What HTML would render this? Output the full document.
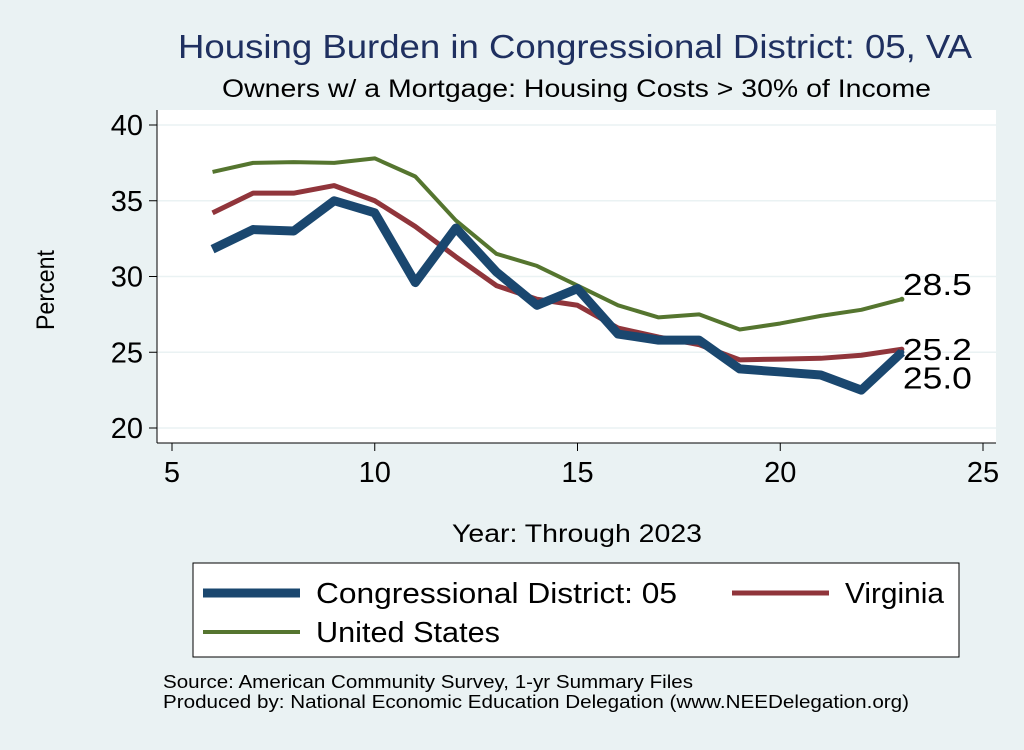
<!DOCTYPE html>
<html><head><meta charset="utf-8"><style>
body{margin:0;background:#eaf2f3;font-family:"Liberation Sans",sans-serif;}
</style></head><body>
<svg width="1024" height="745" xmlns="http://www.w3.org/2000/svg" font-family="Liberation Sans, sans-serif">
<rect x="0" y="0" width="1024" height="745" fill="#eaf2f3"/>
<text x="178" y="58" font-size="33" fill="#1f3060" textLength="794" lengthAdjust="spacingAndGlyphs">Housing Burden in Congressional District:  05, VA</text>
<text x="222" y="97" font-size="25" fill="#000" textLength="709" lengthAdjust="spacingAndGlyphs">Owners w/ a Mortgage: Housing Costs &gt; 30% of Income</text>
<rect x="157" y="110" width="839" height="333" fill="#fff"/>
<g id="grid"></g>
<line x1="157" y1="110" x2="157" y2="443" stroke="#000" stroke-width="1"/>
<line x1="157" y1="443" x2="996" y2="443" stroke="#000" stroke-width="1"/>
<g id="ticks"></g>
<g id="series"></g>
<text x="54" y="290" font-size="25" textLength="80" lengthAdjust="spacingAndGlyphs" transform="rotate(-90 54 290)" text-anchor="start" dx="-40">Percent</text>
<text x="452" y="542" font-size="25" textLength="250" lengthAdjust="spacingAndGlyphs">Year: Through 2023</text>
<rect x="193" y="563" width="766" height="94" fill="#fff" stroke="#000" stroke-width="1"/>
<g><line x1="203" y1="593" x2="300" y2="593" stroke="#1a476f" stroke-width="9"/><text x="316" y="603" font-size="29" textLength="361" lengthAdjust="spacingAndGlyphs">Congressional District:  05</text></g>
<g><line x1="732" y1="593" x2="829" y2="593" stroke="#90353b" stroke-width="5"/><text x="845" y="603" font-size="29" textLength="99" lengthAdjust="spacingAndGlyphs">Virginia</text></g>
<g><line x1="203" y1="632" x2="300" y2="632" stroke="#55752f" stroke-width="4"/><text x="316" y="642" font-size="29" textLength="184" lengthAdjust="spacingAndGlyphs">United States</text></g>
<text x="163" y="688" font-size="18" textLength="530" lengthAdjust="spacingAndGlyphs">Source: American Community Survey, 1-yr Summary Files</text>
<text x="163" y="708" font-size="18" textLength="746" lengthAdjust="spacingAndGlyphs">Produced by: National Economic Education Delegation (www.NEEDelegation.org)</text>
</svg>
<script>
const years=[6,7,8,9,10,11,12,13,14,15,16,17,18,19,20,21,22,23];
const cd05=[31.8,33.1,33.0,35.0,34.2,29.6,33.2,30.3,28.1,29.2,26.2,25.8,25.8,23.9,23.7,23.5,22.5,25.0];
const virginia=[34.2,35.5,35.5,36.0,35.0,33.3,31.3,29.4,28.5,28.1,26.6,26.0,25.5,24.5,24.55,24.6,24.8,25.2];
const us=[36.9,37.5,37.55,37.5,37.8,36.6,33.7,31.5,30.7,29.4,28.1,27.3,27.5,26.5,26.9,27.4,27.8,28.5];
const xTicks=[5,10,15,20,25];
const yTicks=[20,25,30,35,40];
const NS="http://www.w3.org/2000/svg";
function X(v){return 172+(v-5)*(983-172)/20;}
function Y(v){return 428-(v-20)*(428-125)/20;}
const grid=document.getElementById('grid'),ticks=document.getElementById('ticks'),ser=document.getElementById('series');
function mk(tag,attrs,parent){const e=document.createElementNS(NS,tag);for(const k in attrs)e.setAttribute(k,attrs[k]);parent.appendChild(e);return e;}
yTicks.forEach(t=>{
  const g=mk('line',{x1:157,x2:996,y1:Y(t),y2:Y(t),stroke:'#eaf2f3','stroke-width':1.5},grid);
  
  
  const tk=mk('line',{x1:149,x2:157,y1:Y(t),y2:Y(t),stroke:'#000'},ticks);
  
  
  const tx=mk('text',{x:143,y:Y(t)+10,'text-anchor':'end','font-size':29},ticks);
  tx.textContent=t;
  
  
});
xTicks.forEach(t=>{
  const tk=mk('line',{x1:X(t),x2:X(t),y1:443,y2:451,stroke:'#000'},ticks);
  
  
  const tx=mk('text',{x:X(t),y:482,'text-anchor':'middle','font-size':29},ticks);
  tx.textContent=t;
  
  
});
function line(vals,color,w,name){
  const p=mk('polyline',{points:vals.map((v,i)=>X(years[i])+','+Y(v)).join(' '),fill:'none',stroke:color,'stroke-width':w,'stroke-linejoin':'round'},ser);
  
  
  const n=vals.length-1;
  const c=mk('circle',{cx:X(years[n]),cy:Y(vals[n]),r:2.5,fill:color},ser);
  
  
}
line(us,'#55752f',4,'us-line');
line(virginia,'#90353b',5,'virginia-line');
line(cd05,'#1a476f',9,'cd05-line');
function lab(v,dy,name){
  const t=mk('text',{x:X(years[years.length-1])+1,y:Y(v)+dy,'font-size':31,textLength:69,lengthAdjust:'spacingAndGlyphs'},ser);
  t.textContent=v.toFixed(1);
  
  
}
lab(us[us.length-1],-4,'us-end-label');
lab(virginia[virginia.length-1],11,'virginia-end-label');
lab(cd05[cd05.length-1],36,'cd05-end-label');
</script>
</body></html>
